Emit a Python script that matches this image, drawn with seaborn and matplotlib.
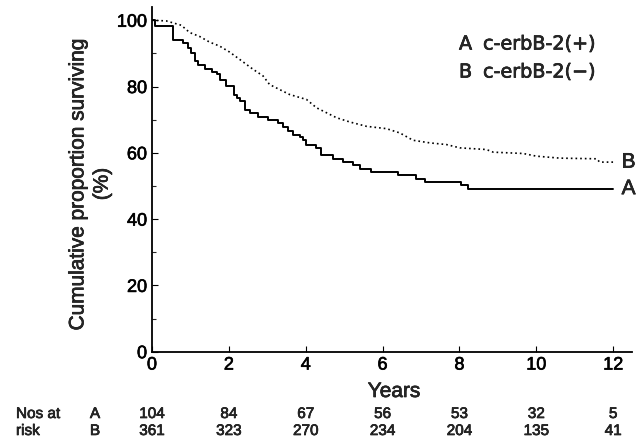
import matplotlib
matplotlib.use("Agg")
import matplotlib.pyplot as plt
import matplotlib.transforms as mtransforms
import matplotlib.patheffects as pe
from matplotlib.ticker import MultipleLocator
import numpy as np
import pandas as pd
import seaborn as sns

# ---- data ----
years_a = [0, 0.07, 0.55, 0.80, 0.94, 1.02, 1.11, 1.20, 1.37, 1.55, 1.69, 1.76, 1.92,
           2.13, 2.20, 2.28, 2.41, 2.54, 2.76, 3.02, 3.28, 3.41, 3.54, 3.67, 3.84,
           3.93, 4.02, 4.28, 4.41, 4.71, 4.97, 5.23, 5.41, 5.71, 6.40, 6.88, 7.10,
           8.05, 8.23, 12.0]
surv_a = [100, 98.3, 94.0, 93.2, 91.7, 90.2, 87.7, 86.4, 85.4, 84.4, 83.7, 81.9, 80.3,
          77.4, 76.6, 75.6, 72.8, 71.9, 70.9, 69.9, 68.9, 67.8, 66.5, 65.5, 64.8,
          63.8, 62.3, 61.5, 59.2, 58.2, 57.2, 56.3, 55.2, 54.2, 53.2, 52.2, 51.2,
          50.2, 49.2, 49.2]

years_b = [0, 0.37, 0.76, 0.98, 1.24, 1.50, 1.76, 2.02, 2.28, 2.63, 2.89, 3.06, 3.32,
           3.58, 4.02, 4.28, 4.54, 4.80, 5.15, 5.58, 6.10, 6.45, 6.79, 7.23, 7.66,
           8.01, 8.70, 8.88, 9.66, 10.0, 10.61, 11.57, 11.65, 12.0]
surv_b = [100, 99.8, 98.5, 96.3, 95.1, 93.4, 92.2, 90.4, 88.2, 85.2, 83.2, 80.6, 79.1,
          77.6, 76.1, 73.6, 72.1, 70.6, 69.3, 68.0, 67.3, 66.0, 63.8, 63.0, 62.5,
          61.5, 61.0, 60.2, 59.8, 59.0, 58.4, 58.2, 57.2, 57.2]

risk_years = [0, 2, 4, 6, 8, 10, 12]
risk_a = [104, 84, 67, 56, 53, 32, 5]
risk_b = [361, 323, 270, 234, 204, 135, 41]

legend_a = "c-erbB-2(+)"
legend_b = "c-erbB-2(\u2212)"

df_a = pd.DataFrame({"Years": years_a, "Survival": surv_a})
df_b = pd.DataFrame({"Years": years_b, "Survival": surv_b})

# ---- style ----
sns.set_style("ticks")
plt.rcParams["font.family"] = ["Liberation Sans", "DejaVu Sans"]
heavy = [pe.withStroke(linewidth=0.45, foreground="black")]

fig = plt.figure(figsize=(6.43, 4.38), dpi=100)
ax = fig.add_axes([152 / 643, 1 - 351.7 / 438, (632 - 152) / 643, (351.7 - 7) / 438])

sns.lineplot(data=df_a, x="Years", y="Survival", ax=ax, color="black", lw=1.4,
             drawstyle="steps-post", estimator=None, sort=False)
sns.lineplot(data=df_b, x="Years", y="Survival", ax=ax, color="black", lw=1.2,
             linestyle=(0, (1, 1.8)), estimator=None, sort=False)

ax.set_xlim(0, 12.49)
ax.set_ylim(0, 104)
ax.xaxis.set_major_locator(MultipleLocator(2))
ax.yaxis.set_major_locator(MultipleLocator(20))
ax.yaxis.set_minor_locator(MultipleLocator(10))
ax.set_xlabel("")
ax.set_ylabel("")
sns.despine(ax=ax)
for s in ["left", "bottom"]:
    ax.spines[s].set_linewidth(1.3)
    ax.spines[s].set_color("black")
ax.tick_params(axis="both", which="major", direction="in", length=4, width=0.8,
               labelsize=13, pad=3.5, colors="black")
ax.tick_params(axis="y", which="minor", direction="in", length=3, width=0.8)
ax.set_yticks([0, 20, 40, 60, 80, 100])
for lbl in ax.get_xticklabels() + ax.get_yticklabels():
    lbl.set_path_effects(heavy)

# end labels
ax.text(12.22, surv_b[-1], "B", fontsize=15, ha="left", va="center", clip_on=False,
        path_effects=heavy)
ax.text(12.22, surv_a[-1], "A", fontsize=15, ha="left", va="center", clip_on=False,
        path_effects=heavy)

# legend text
leg_font = ["DejaVu Sans"]
fig.text(459 / 643, 1 - 49.5 / 438, "A", fontsize=13.8, family=leg_font, ha="left",
         va="baseline", path_effects=heavy)
fig.text(483 / 643, 1 - 49.5 / 438, legend_a, fontsize=13.8, family=leg_font, ha="left",
         va="baseline", path_effects=heavy)
fig.text(459 / 643, 1 - 77.5 / 438, "B", fontsize=13.8, family=leg_font, ha="left",
         va="baseline", path_effects=heavy)
fig.text(483 / 643, 1 - 77.5 / 438, legend_b, fontsize=13.8, family=leg_font, ha="left",
         va="baseline", path_effects=heavy)

# axis labels
fig.text(90 / 643, 1 - 184 / 438, "Cumulative proportion surviving\n(%)", fontsize=15,
         rotation=90, ha="center", va="center", multialignment="center", linespacing=1.35,
         path_effects=heavy)
fig.text(394 / 643, 1 - 397 / 438, "Years", fontsize=15, ha="center", va="baseline",
         path_effects=heavy)

# numbers at risk
trans = mtransforms.blended_transform_factory(ax.transData, fig.transFigure)
ya = 1 - 418 / 438
yb = 1 - 435 / 438
fig.text(16 / 643, ya, "Nos at", fontsize=11, ha="left", va="baseline", path_effects=heavy)
fig.text(16 / 643, yb, "risk", fontsize=11, ha="left", va="baseline", path_effects=heavy)
fig.text(95 / 643, ya, "A", fontsize=11, ha="center", va="baseline", path_effects=heavy)
fig.text(95 / 643, yb, "B", fontsize=11, ha="center", va="baseline", path_effects=heavy)
for x, na, nb in zip(risk_years, risk_a, risk_b):
    ax.text(x, ya, str(na), fontsize=11, ha="center", va="baseline", transform=trans,
            clip_on=False, path_effects=heavy)
    ax.text(x, yb, str(nb), fontsize=11, ha="center", va="baseline", transform=trans,
            clip_on=False, path_effects=heavy)

fig.savefig("out.png", dpi=100)
